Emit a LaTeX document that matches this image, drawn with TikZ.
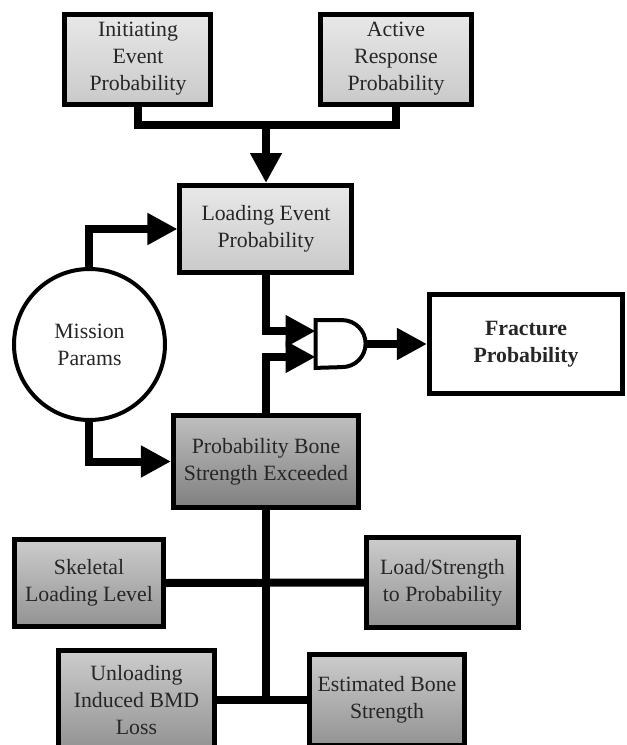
\documentclass[tikz,border=0pt]{standalone}
\usepackage{fontspec}
\setmainfont{Liberation Serif}
\usetikzlibrary{positioning,arrows.meta}

\begin{document}
\begin{tikzpicture}[node distance=2cm,on grid,
    >={Triangle[length=15pt,width=15pt]},
    every node/.style={font=\rmfamily\fontsize{10.9pt}{13.5pt}\selectfont,text=black!85,align=center,inner sep=0pt},
    box/.style={draw,line width=2.5pt},
    light/.style={top color=gray!18,bottom color=gray!42},
    mid/.style={top color=gray!40,bottom color=gray!85},
    dark/.style={top color=gray!50,bottom color=gray!100},
    wire/.style={line width=4pt},
    arrow/.style={wire,->}]
    \useasboundingbox (-133pt,-258pt) rectangle (180.5pt,114.5pt);
    % top part
    \node[box,light,minimum width=86pt,minimum height=43.5pt] (loading) {Loading Event\\Probability};
    \node[box,light,minimum width=73pt,minimum height=45pt] (init) [above left=85pt and 64pt of loading] {Initiating\\Event\\Probability};
    \node[box,light,minimum width=75pt,minimum height=45pt] (active) [above right=85pt and 65pt of loading] {Active\\Response\\Probability};
    \node[circle,draw,line width=2pt,minimum size=75.5pt] (mission) [below left=57.75pt and 88.25pt of loading] {Mission\\Params};
    \node[minimum width=25pt,minimum height=23.5pt] (gate) [below right=57.5pt and 37.5pt of loading] {};
    \draw[line width=2pt] (gate.north west) -- ++(13.25pt,0) arc[start angle=90,end angle=-90,radius=11.75pt] -- (gate.south west) -- cycle;
    \node[box,fill=white,minimum width=96.5pt,minimum height=49.5pt,font=\rmfamily\fontsize{10.9pt}{13.5pt}\selectfont\bfseries] (fracture) [right=92.5pt of gate] {Fracture\\Probability};
    \node[box,dark,minimum width=92.5pt,minimum height=46pt] (pbse) [below=116.25pt of loading] {Probability Bone\\Strength Exceeded};
    % bottom part
    \node[box,mid,minimum width=74.5pt,minimum height=43.5pt] (skeletal) [below left=60.75pt and 88.5pt of pbse] {Skeletal\\Loading Level};
    \node[box,mid,minimum width=76pt,minimum height=45pt] (loadstr) [below right=60.5pt and 88.25pt of pbse] {Load/Strength\\to Probability};
    \node[box,mid,minimum width=78pt,minimum height=49.5pt] (unload) [below left=119.25pt and 64.75pt of pbse] {Unloading\\Induced BMD\\Loss};
    \node[box,mid,minimum width=77.5pt,minimum height=45.5pt] (estim) [below right=119.25pt and 60.5pt of pbse] {Estimated Bone\\Strength};
    % connectors
    \coordinate[above=29pt of loading.north] (merge);
    \draw[wire] (init.south) |- (merge) -| (active.south);
    \draw[arrow] (merge) -- (loading);
    \draw[arrow] (mission.north) |- (loading.west);
    \draw[arrow] (mission.south) |- (pbse.west);
    \draw[arrow] (loading.south) |- (gate.153);
    \draw[arrow] (pbse.north) |- (gate.207);
    \draw[arrow] (gate.east) -- (fracture);
    \draw[wire] (pbse.south) -- (pbse.south |- unload.east);
    \draw[wire] (skeletal.east) -- (loadstr.west);
    \draw[wire] (unload.east) -- (estim.west);
\end{tikzpicture}
\end{document}
